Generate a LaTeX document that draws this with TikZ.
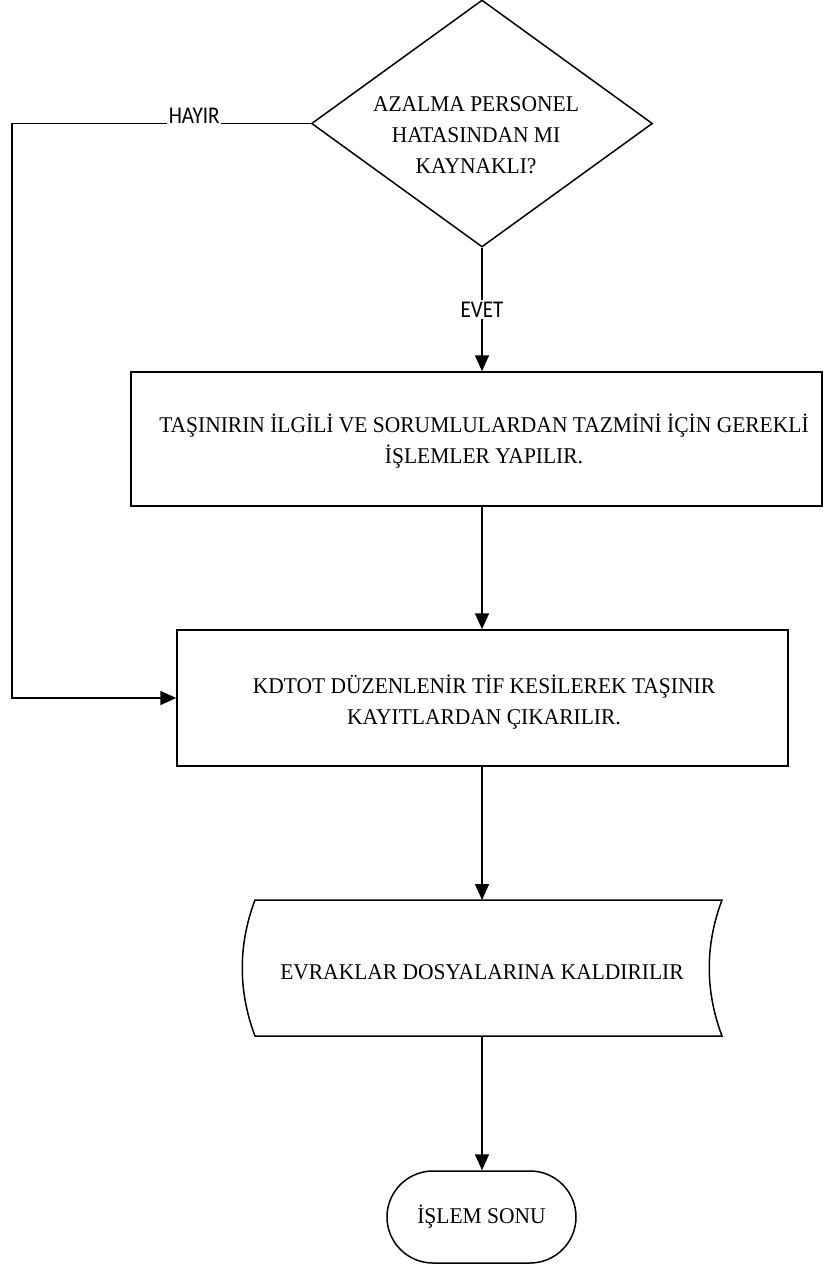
\documentclass[tikz,border=0pt]{standalone}
\usepackage{fontspec}
\setmainfont[FakeStretch=0.955]{Liberation Serif}
\newfontfamily\lblfont[FakeStretch=0.88]{Carlito}
\usetikzlibrary{shapes.geometric,arrows.meta}
\begin{document}
\begin{tikzpicture}[x=1pt,y=-1pt,
  shp/.style={draw, line width=1.5pt, inner sep=0pt},
  txt/.style={font=\fontsize{22.5pt}{31pt}\selectfont, align=center, inner sep=0pt},
  arr/.style={line width=1.5pt, -{Triangle[length=16pt,width=14pt]}},
  yn/.style={font=\lblfont\fontsize{24pt}{26pt}\selectfont, fill=white, inner sep=1.5pt}]
\useasboundingbox (0,0) rectangle (823,1266);

% decision
\node[shp, diamond, minimum width=341pt, minimum height=247pt] (d) at (482,123.5) {};
\node[txt] (dt) at (476,135) {AZALMA PERSONEL\\HATASINDAN MI\\KAYNAKLI?};

% process 1
\node[shp, minimum width=691pt, minimum height=134pt] (b1) at (476.5,439) {};
\node[txt] (b1t) at (484,441) {TAŞINIRIN İLGİLİ VE SORUMLULARDAN TAZMİNİ İÇİN GEREKLİ\\İŞLEMLER YAPILIR.};

% process 2
\node[shp, minimum width=611pt, minimum height=136pt] (b2) at (482.5,698) {};
\node[txt] (b2t) at (484,702) {KDTOT DÜZENLENİR TİF KESİLEREK TAŞINIR\\KAYITLARDAN ÇIKARILIR.};

% stored data
\node[minimum width=467pt, minimum height=136pt, inner sep=0pt, outer sep=0pt] (sd) at (488.5,968) {};
\draw[line width=1.5pt] (sd.north west) -- (sd.north east)
  .. controls +(-17,45) and +(-17,-45) .. (sd.south east) -- (sd.south west)
  .. controls +(-17,-45) and +(-17,45) .. (sd.north west) -- cycle;
\node[txt] (sdt) at (482,972) {EVRAKLAR DOSYALARINA KALDIRILIR};

% terminal
\node[shp, txt, rounded corners=46pt, minimum width=189pt, minimum height=92pt] (t) at (481.5,1217) {İŞLEM SONU};

% connectors
\coordinate (cl) at (12,123.5);
\draw[arr] (d.south) -- node[yn] (evet) {EVET} (b1.north -| d.south);
\draw[arr] (d.west) -- node[yn, pos=0.39, anchor=base] (hayir) {HAYIR} (cl) |- (b2.west);
\draw[arr] (b1.south -| d.south) -- (b2.north -| d.south);
\draw[arr] (b2.south -| d.south) -- (sd.north -| d.south);
\draw[arr] (sd.south -| d.south) -- (t.north -| d.south);
\end{tikzpicture}
\end{document}
